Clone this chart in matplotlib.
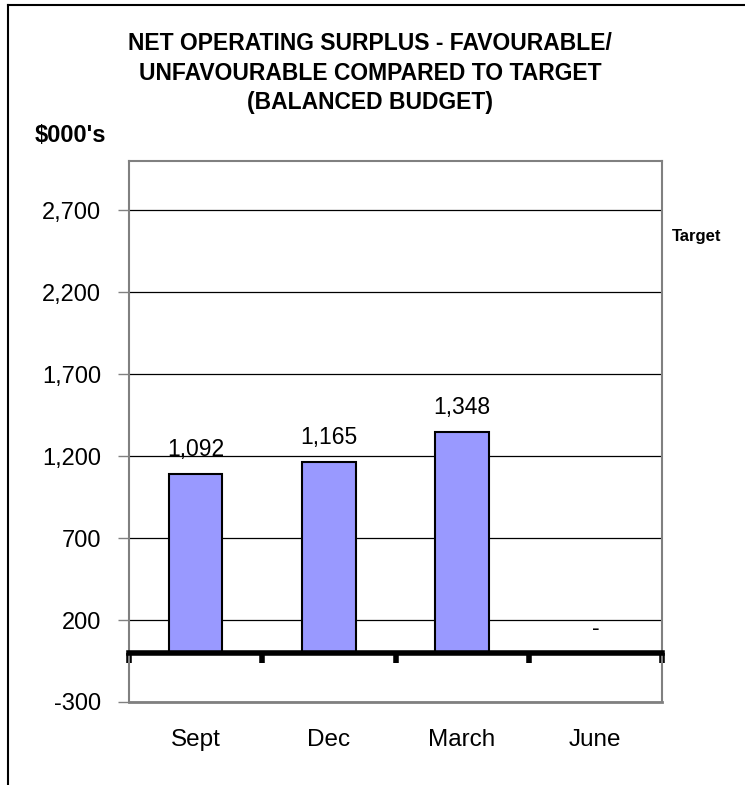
import matplotlib.pyplot as plt
from matplotlib.lines import Line2D

plt.rcParams['font.family'] = ['Liberation Sans', 'DejaVu Sans']

quarters = ['Sept', 'Dec', 'March', 'June']
surplus = [1092, 1165, 1348, 0]
value_labels = ['1,092', '1,165', '1,348', '-']
yticks = [-300, 200, 700, 1200, 1700, 2200, 2700]

fig = plt.figure(figsize=(7.45, 7.85), dpi=100)
ax = fig.add_axes([129/745, 1 - 702/785, 533/745, 541/785])

x = list(range(len(quarters)))
ax.bar(x, surplus, width=0.4, color='#9999FF', edgecolor='black', linewidth=1.5, zorder=3)
for xi, v, lab in zip(x, surplus, value_labels):
    ax.annotate(lab, (xi, v), xytext=(0, 9), textcoords='offset points',
                ha='center', va='bottom', fontsize=16.5)

ax.set_xlim(-0.5, len(quarters) - 0.5)
ax.set_ylim(-300, 3000)
ax.set_yticks(yticks)
ax.set_yticklabels([f'{t:,}' for t in yticks], fontsize=17)
ax.yaxis.grid(True, color='black', linewidth=0.9, zorder=0)
ax.tick_params(axis='y', length=8, width=1, color='#808080', pad=12)

# thick zero axis with boundary ticks
ax.spines['bottom'].set_position(('data', 0))
ax.spines['bottom'].set_linewidth(4)
ax.spines['bottom'].set_color('black')
ax.spines['bottom'].set_zorder(4)
ax.set_xticks([i - 0.5 for i in range(len(quarters) + 1)])
ax.set_xticklabels([])
ax.tick_params(axis='x', length=7, width=4, color='black', direction='out')
for sp in ['left', 'right', 'top']:
    ax.spines[sp].set_color('#808080')
    ax.spines[sp].set_linewidth(1.5)
ax.axhline(-300, color='#808080', linewidth=2, zorder=5, clip_on=False)

for xi, q in zip(x, quarters):
    ax.text(xi, -0.07, q, transform=ax.get_xaxis_transform(),
            ha='center', va='center', fontsize=17.5)

fig.text(0.497, 1 - 73/785, 'NET OPERATING SURPLUS - FAVOURABLE/\nUNFAVOURABLE COMPARED TO TARGET\n(BALANCED BUDGET)',
         ha='center', va='center', fontsize=16.5, fontweight='bold', linespacing=1.36)
fig.text(35/745, 1 - 136/785, "$000's", ha='left', va='center', fontsize=17, fontweight='bold')
fig.text(672/745, 1 - 236/785, 'Target', ha='left', va='center', fontsize=12, fontweight='bold')

# outer frame (top and left)
fig.add_artist(Line2D([8/745, 1], [1 - 5/785, 1 - 5/785], color='black', linewidth=1.5))
fig.add_artist(Line2D([8/745, 8/745], [0, 1 - 5/785], color='black', linewidth=1.5))

fig.savefig('out.png', dpi=100)
